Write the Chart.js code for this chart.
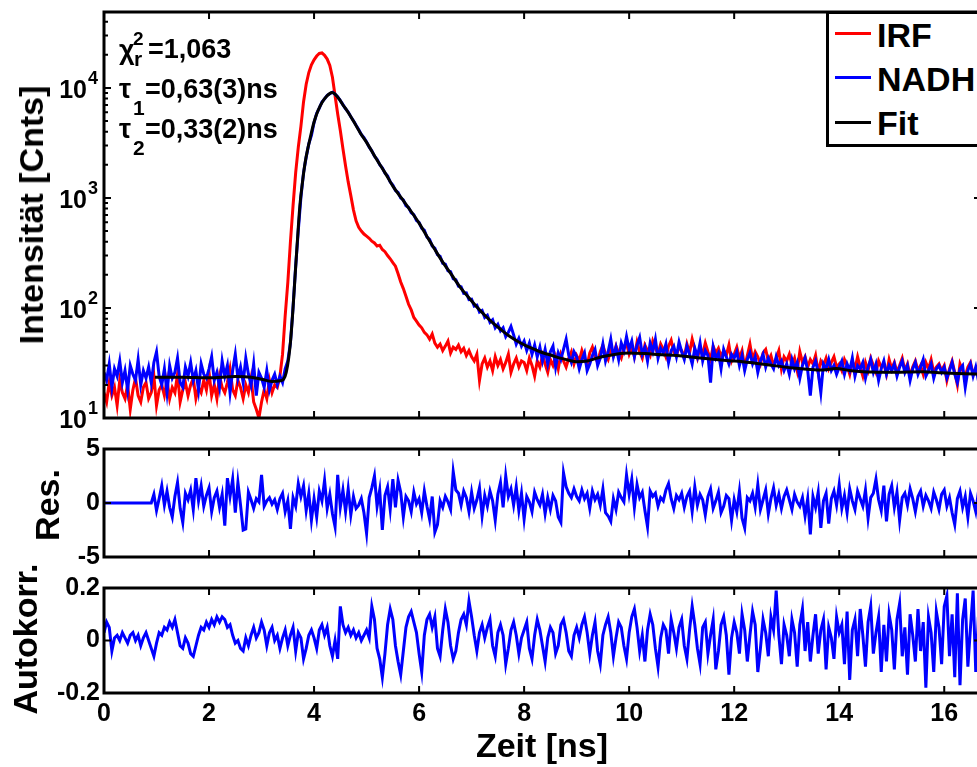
<!DOCTYPE html>
<html lang="de">
<head>
<meta charset="UTF-8">
<title>IRF / NADH – Fit, Residuen, Autokorrelation</title>
<script src="https://cdn.jsdelivr.net/npm/chart.js@4"></script>
<style>
  * { margin: 0; padding: 0; box-sizing: border-box; }
  html, body { width: 977px; height: 767px; overflow: hidden; background: #fff; }
  body { font-family: 'Liberation Sans', Arial, sans-serif; font-weight: bold; color: #000; }
  #fig { position: relative; width: 977px; height: 767px; overflow: hidden; }
  canvas { position: absolute; left: 0; }
  .ylab, .xlab { position: absolute; font-size: 34px; line-height: 34px; white-space: nowrap; }
  .ylab { transform: translate(-50%, -50%) rotate(-90deg); }
  .xlab { transform: translate(-50%, -50%); }
  .txt { position: absolute; white-space: nowrap; line-height: 1; }
  #legend { position: absolute; left: 826px; top: 11px; width: 180px; height: 136px; border: 3px solid #000; background: #fff; }
  #legend .swatch { position: absolute; left: 6px; width: 36px; height: 3px; }
  #legend .name { position: absolute; left: 48px; font-size: 34px; line-height: 34px; white-space: nowrap; }
</style>
</head>
<body>
<div id="fig">
  <canvas id="chartMain" width="990" height="430" style="top:0"></canvas>
  <canvas id="chartRes" width="990" height="148" style="top:429px"></canvas>
  <canvas id="chartAcf" width="990" height="199" style="top:568px"></canvas>

  <div class="ylab" style="left:31px; top:215px">Intensität [Cnts]</div>
  <div class="ylab" style="left:47px; top:505px">Res.</div>
  <div class="ylab" style="left:25px; top:639px">Autokorr.</div>
  <div class="xlab" style="left:542px; top:745px">Zeit [ns]</div>

  <div id="fitInfo"></div>
  <div id="legend"></div>
</div>

<script>
  // Time axis: one value per 0.05 ns bin, starting at 0 ns
  const BIN_NS = 0.05;
  const X_MAX = 16.7;
  const X_TICKS = [0, 2, 4, 6, 8, 10, 12, 14, 16];
  const LOG_DECADES = [10, 100, 1000, 10000];
  const LOG_MINOR = [20, 30, 40, 50, 60, 70, 80, 90, 200, 300, 400, 500, 600, 700, 800, 900,
    2000, 3000, 4000, 5000, 6000, 7000, 8000, 9000, 20000, 30000, 40000];
  const RES_TICKS = [-5, 0, 5];
  const ACF_TICKS = [-0.2, 0, 0.2];

  // Instrument response (counts per bin), one row per ns
  const IRF_COUNTS = [
    17, 14, 21, 16, 19, 13, 22, 17, 15, 20, 12, 18, 23, 16, 14, 19, 21, 15, 17, 24,
    13, 18, 20, 16, 22, 15, 19, 17, 25, 14, 18, 21, 16, 20, 23, 15, 19, 17, 22, 18,
    26, 16, 20, 15, 24, 19, 17, 21, 28, 18, 16, 22, 19, 15, 20, 17, 23, 14, 12, 10,
    14, 18, 15, 22, 17, 20, 19, 24, 38, 85, 170, 400, 850, 1700, 2900, 4500, 7500, 10800, 13800, 16200,
    18000, 19500, 20600, 20800, 19800, 18300, 16000, 12500, 8500, 5800, 4100, 2800, 1950, 1400, 1050, 780, 620, 540, 500, 470,
    450, 430, 405, 390, 365, 372, 340, 325, 300, 280, 258, 240, 205, 172, 150, 128, 108, 96, 82, 76,
    70, 66, 60, 57, 52, 58, 48, 44, 47, 41, 45, 50, 39, 44, 42, 46, 40, 43, 37, 41,
    36, 33, 38, 22, 31, 35, 29, 33, 27, 36, 30, 34, 28, 32, 38, 26, 31, 35, 29, 33,
    32, 27, 35, 30, 24, 33, 29, 37, 31, 26, 34, 30, 36, 28, 38, 33, 29, 35, 40, 31,
    37, 33, 41, 35, 30, 39, 44, 36, 32, 40, 46, 38, 34, 42, 37, 45, 39, 35, 43, 48,
    38, 44, 36, 49, 40, 35, 46, 41, 37, 50, 43, 38, 47, 42, 36, 45, 51, 40, 37, 44,
    41, 36, 47, 39, 52, 42, 35, 44, 38, 48, 40, 34, 45, 39, 43, 36, 41, 37, 46, 33,
    38, 44, 35, 41, 29, 37, 47, 34, 40, 36, 31, 39, 42, 33, 37, 30, 35, 41, 28, 36,
    33, 38, 30, 35, 27, 40, 32, 36, 29, 34, 31, 37, 26, 33, 30, 35, 28, 32, 36, 29,
    31, 27, 34, 30, 25, 33, 28, 36, 29, 24, 32, 27, 35, 30, 26, 33, 29, 31, 25, 34,
    28, 32, 26, 30, 35, 27, 31, 24, 29, 33, 27, 30, 25, 32, 28, 34, 26, 29, 31, 27,
    30, 22, 28, 33, 26, 20, 31, 27, 24, 29, 32, 25, 28, 30, 26
  ];

  // NADH decay (counts per bin)
  const NADH_COUNTS = [
    26, 22, 31, 19, 28, 24, 33, 21, 27, 18, 30, 25, 22, 34, 20, 27, 23, 29, 21, 32,
    40, 24, 20, 28, 17, 30, 23, 26, 35, 21, 19, 29, 24, 32, 22, 27, 18, 31, 25, 23,
    28, 36, 22, 26, 19, 33, 24, 30, 17, 27, 38, 23, 29, 21, 35, 25, 20, 31, 16, 26,
    23, 19, 27, 18, 22, 25, 20, 24, 21, 28, 33, 48, 102, 240, 510, 1020, 1700, 2350, 3100, 3700,
    4850, 5880, 6550, 7450, 7950, 8560, 8870, 9150, 8760, 8340, 7660, 7050, 6460, 6040, 5470, 5030, 4570, 4180, 3770, 3530,
    3230, 2890, 2680, 2400, 2250, 2010, 1880, 1680, 1590, 1400, 1310, 1170, 1120, 1000, 960, 850, 820, 735, 705, 625,
    600, 530, 510, 440, 420, 365, 350, 305, 295, 255, 250, 218, 214, 184, 181, 158, 156, 136, 137, 119,
    120, 104, 106, 92, 95, 82, 86, 74, 78, 66, 71, 62, 66, 55, 60, 68, 57, 47, 53, 45,
    50, 41, 48, 38, 46, 36, 44, 33, 42, 31, 40, 45, 29, 39, 34, 42, 52, 37, 32, 40,
    36, 28, 34, 39, 27, 31, 37, 42, 30, 35, 47, 33, 40, 52, 36, 44, 34, 48, 41, 55,
    42, 50, 36, 46, 54, 38, 44, 33, 48, 40, 52, 35, 43, 39, 47, 32, 41, 45, 36, 49,
    40, 34, 45, 38, 31, 43, 36, 48, 33, 41, 37, 21, 44, 35, 39, 28, 42, 36, 31, 38,
    35, 40, 30, 37, 27, 34, 39, 31, 36, 26, 33, 38, 29, 35, 31, 28, 36, 30, 33, 27,
    31, 25, 34, 28, 32, 23, 30, 35, 27, 16, 29, 33, 26, 17, 31, 28, 34, 27, 30, 25,
    29, 33, 25, 31, 27, 35, 24, 30, 28, 32, 23, 29, 34, 26, 31, 22, 28, 33, 25, 30,
    27, 31, 24, 29, 33, 26, 30, 22, 28, 32, 25, 29, 34, 24, 27, 31, 23, 28, 30, 26,
    29, 23, 27, 32, 25, 21, 28, 30, 19, 27, 31, 24, 29, 22, 27
  ];

  // Fit curve, sampled where it bends
  const FIT_TIME = [0.97, 1.5, 2.0, 2.5, 2.8, 3.0, 3.2, 3.35, 3.42, 3.47, 3.52, 3.56, 3.60, 3.64, 3.68,
    3.73, 3.78, 3.83, 3.88, 3.92, 4.0, 4.08, 4.16, 4.24, 4.30, 4.34, 4.40, 4.48, 4.55, 4.62, 4.75,
    4.88, 5.0, 5.19, 5.35, 5.51, 5.67, 5.83, 6.0, 6.15, 6.3, 6.46, 6.62, 6.78, 6.94, 7.1, 7.26,
    7.42, 7.57, 7.73, 7.9, 8.05, 8.2, 8.37, 8.53, 8.69, 8.85, 9.0, 9.2, 9.48, 9.75, 9.99, 10.3,
    10.63, 10.9, 11.14, 11.4, 11.65, 11.9, 12.16, 12.4, 12.67, 12.9, 13.18, 13.45, 13.69, 13.94,
    14.2, 14.45, 14.7, 14.96, 15.3, 15.6, 15.9, 16.11, 16.4, 16.7];
  const FIT_COUNTS = [23.5, 23.5, 23.2, 23.8, 23.5, 22.5, 21.5, 21.8, 22.5, 26, 36, 55, 100, 200, 390,
    850, 1400, 2100, 2800, 3400, 4900, 6300, 7500, 8400, 8900, 9100, 8800, 7900, 7000, 6300, 5000,
    3900, 3200, 2250, 1700, 1260, 990, 776, 590, 447, 340, 257, 200, 155, 125, 102, 85,
    72, 63, 55, 49, 45, 42, 39, 37, 35, 33.5, 32.5, 33, 36, 38, 39, 38.5,
    37.5, 37, 36, 35, 34, 33.2, 32.5, 31.5, 30.3, 29.3, 28.3, 27.6, 27.3, 28.2,
    27, 26.3, 26.1, 26, 26.2, 26.3, 25.8, 25.5, 25.3, 25];

  // Weighted residuals (same bins as the data)
  const RESIDUALS = [
    0, 0, 0, 0, 0, 0, 0, 0, 0, 0, 0, 0, 0, 0, 0, 0, 0, 0, 0, 0.8,
    -0.7, 0.4, 1.6, -0.2, 1.1, -0.4, -1.3, 0.6, 1.9, -0.5, -1.8, 0.9, 0.3, 1.2, -0.6, 2.3, 0.2, 1.6, -0.3, 0.7,
    1.4, -0.8, 0.5, 1.1, -0.4, 0.8, -2.1, 2.3, 0.6, 2.2, -0.9, 1.9, -0.2, -2.5, -2.4, 1.0, 0.3, -0.5, 0.4, 0.1,
    2.6, -0.3, 0.2, 0.5, -0.1, 0.3, -0.6, 0.4, 0.9, -0.8, 0.2, -2.4, 0.5, -0.3, 1.8, 0.6, 1.6, -0.7, 0.9, -1.6,
    0.4, -1.3, 1.1, 0.2, 2.1, -0.5, 0.8, -1.0, -2.2, 2.6, -0.4, 1.2, -0.8, 1.3, -1.1, 0.6, -0.5, -0.2, 0.4, -0.9,
    -2.8, 0.5, 1.4, 2.5, -0.3, 1.2, -2.5, 0.7, 1.5, -0.6, 2.2, -0.4, 2.1, 1.0, -1.3, 0.6, 0.2, -0.8, 1.0, -0.1,
    0.4, -0.9, 1.1, -0.3, -1.5, 0.6, -2.7, -2.0, 0.2, -0.4, 0.6, 0.1, -0.6, 2.9, 1.2, 0.9, -0.2, 1.1, 0.5, -0.8,
    1.0, -0.5, 0.3, 1.4, -1.2, 0.7, -0.3, 1.1, 0.2, -1.6, 0.8, 1.9, -0.4, 2.5, 0.6, 1.3, -0.2, 1.5, -0.7, 0.9,
    -1.5, 0.6, 0.1, -0.8, 1.0, 0.3, -0.2, 0.8, -1.0, 0.5, -0.6, 0.7, 0.2, -1.3, -1.8, 2.8, 1.5, 0.9, 0.5, 1.3,
    0.6, 0.2, 1.2, 0.4, 0.9, -0.5, 1.1, 0.3, 0.8, -0.2, 1.3, -0.9, -1.2, -1.7, 0.4, -0.6, 1.0, 0.5, 0.1, 2.6,
    0.8, 2.2, -0.4, 1.7, 0.5, 1.0, -0.7, -2.2, 1.1, 0.6, 0.9, -0.3, 0.5, 0.2, 1.2, 1.8, 0.4, -0.5, 0.7, 0.3,
    0.9, -0.4, 0.6, 1.1, -0.8, 1.5, -0.2, 0.8, 0.3, -1.1, 0.6, 1.3, -0.5, 0.2, 1.0, -0.9, -0.3, 0.7, 0.4, -1.6,
    0.3, -0.8, 1.1, -1.4, -2.3, 0.5, 0.2, 0.9, -0.4, 1.7, -0.6, 0.3, 1.2, -1.0, 0.4, 1.4, -0.2, 0.8, -0.5, 0.6,
    1.2, 0.3, -0.6, 0.8, 0.1, -0.3, 0.5, -1.2, 0.4, -2.9, 0.6, -0.4, 1.0, -2.3, 0.2, 0.9, -1.9, 0.4, 1.1, -0.2,
    1.7, -0.5, 0.7, -0.9, 1.3, 0.2, -0.6, 1.1, 0.4, -0.3, 1.2, -1.4, 0.5, 0.9, 2.2, 0.3, -0.7, 1.6, -1.7, 0.8,
    1.6, -0.4, 1.0, -1.6, 0.5, 0.9, -0.2, 1.3, 0.4, -0.8, 0.6, 1.1, -0.3, 0.7, 0.2, -0.5, 1.0, 0.3, -0.6, 0.8,
    1.2, -0.3, 0.5, -0.9, -2.0, 0.4, 1.1, -0.4, 0.6, -1.3, 0.9, 0.2, -0.8, 1.0, -0.5
  ];

  // Autocorrelation of the residuals
  const AUTOCORR = [
    0.03, 0.07, 0.05, -0.04, 0.01, 0.02, 0.0, 0.03, 0.01, -0.01, 0.02, 0.03, 0.0, 0.02, -0.02, 0.01, 0.03, 0.0, -0.03, -0.06,
    -0.01, 0.03, 0.02, 0.05, 0.04, 0.07, 0.05, 0.08, 0.03, -0.02, -0.03, 0.01, -0.01, -0.05, -0.06, -0.02, 0.02, 0.05, 0.04, 0.07,
    0.05, 0.08, 0.06, 0.09, 0.07, 0.09, 0.08, 0.05, 0.06, 0.02, -0.01, 0.0, -0.03, -0.04, 0.01, -0.02, 0.02, 0.05, 0.01, 0.03,
    0.07, 0.04, -0.02, 0.03, 0.05, 0.0, 0.02, -0.03, 0.01, 0.04, -0.02, 0.02, 0.05, -0.04, 0.03, 0.01, -0.07, -0.03, 0.02, 0.04,
    0.01, -0.03, 0.04, 0.06, 0.02, 0.05, -0.02, -0.06, 0.0, -0.07, 0.13, 0.06, 0.03, 0.05, 0.02, 0.04, 0.01, 0.03, 0.0, 0.02,
    0.04, 0.01, 0.13, 0.08, -0.03, -0.07, -0.14, -0.05, 0.06, 0.12, 0.08, -0.02, -0.08, -0.13, -0.04, 0.05, 0.09, 0.11, 0.07, 0.03,
    -0.05, -0.12, 0.02, 0.08, 0.10, 0.05, 0.09, -0.03, -0.06, 0.04, 0.12, 0.07, -0.02, -0.07, -0.04, 0.03, 0.08, 0.10, 0.06, 0.15,
    0.09, 0.02, -0.04, 0.03, 0.06, 0.01, 0.05, 0.08, -0.02, -0.06, 0.03, 0.06, 0.02, -0.09, -0.03, 0.04, 0.07, 0.02, -0.05, 0.01,
    0.04, 0.07, -0.03, -0.07, 0.02, 0.08, 0.04, -0.02, -0.08, 0.01, 0.05, 0.03, -0.05, -0.02, 0.06, 0.08, 0.03, -0.04, -0.06, 0.02,
    0.05, 0.01, 0.06, 0.09, 0.03, -0.05, 0.02, 0.07, -0.04, -0.09, 0.02, 0.06, 0.09, 0.03, -0.06, 0.01, 0.07, 0.05, -0.02, -0.07,
    0.03, 0.09, 0.12, 0.05, -0.04, 0.02, -0.08, 0.04, 0.10, 0.06, -0.03, -0.10, 0.01, 0.06, 0.04, -0.05, 0.08, 0.03, -0.03, 0.05,
    0.08, -0.02, -0.07, 0.04, 0.13, 0.06, -0.03, -0.09, 0.05, 0.07, -0.05, 0.02, 0.08, -0.11, -0.04, 0.06, 0.09, 0.02, -0.13, 0.01,
    0.07, 0.03, -0.05, 0.10, 0.04, -0.08, 0.02, 0.11, 0.06, -0.12, -0.03, 0.08, 0.03, -0.06, 0.09, 0.04, 0.19, 0.02, -0.09, 0.06,
    0.02, -0.06, 0.08, 0.03, -0.10, 0.06, 0.12, -0.04, 0.07, -0.08, 0.02, 0.10, -0.05, 0.04, 0.08, -0.11, 0.05, 0.01, -0.07, 0.09,
    0.03, 0.06, -0.09, 0.11, -0.15, 0.04, 0.08, -0.06, 0.12, 0.02, -0.10, 0.07, 0.13, -0.05, 0.03, 0.09, -0.12, 0.06, -0.08, 0.10,
    0.04, -0.11, 0.08, 0.14, -0.06, 0.05, -0.13, 0.10, 0.02, -0.08, 0.12, -0.04, 0.07, -0.18, 0.09, 0.03, -0.12, 0.11, 0.05, -0.09,
    0.13, 0.17, -0.06, 0.10, -0.14, 0.18, -0.17, 0.08, 0.16, -0.10, 0.05, 0.19, -0.12, 0.09, -0.04
  ];

  const red = '#ff0000', blue = '#0000ff', black = '#000000';
  const FONT = "'Liberation Sans', Arial, sans-serif";
  const tickFont = { family: FONT, size: 25, weight: 'bold' };

  const binned = arr => arr.map((y, i) => ({ x: +(i * BIN_NS).toFixed(2), y }));
  const paired = (xs, ys) => xs.map((x, i) => ({ x, y: ys[i] }));

  // MATLAB-style box: frame plus inward ticks on all four sides
  const matlabAxes = {
    id: 'matlabAxes',
    afterDatasetsDraw(chart, args, o) {
      const { ctx, chartArea: a, scales: { x, y } } = chart;
      ctx.save();
      ctx.strokeStyle = '#000';
      ctx.lineWidth = 2;
      ctx.beginPath();
      const seg = (x0, y0, x1, y1) => { ctx.moveTo(x0, y0); ctx.lineTo(x1, y1); };
      for (const v of X_TICKS) {
        const px = x.getPixelForValue(v);
        seg(px, a.top, px, a.top + 7);
        seg(px, a.bottom, px, a.bottom - 7);
      }
      for (const v of o.yMajor) {
        const py = y.getPixelForValue(v);
        seg(a.left, py, a.left + 7, py);
        seg(a.right, py, a.right - 7, py);
      }
      for (const v of (o.yMinor || [])) {
        const py = y.getPixelForValue(v);
        seg(a.left, py, a.left + 4, py);
        seg(a.right, py, a.right - 4, py);
      }
      ctx.stroke();
      ctx.lineWidth = 3;
      ctx.strokeRect(a.left, a.top, a.width, a.height);

      if (o.logLabels) {
        ctx.fillStyle = '#000';
        ctx.textAlign = 'right';
        ctx.textBaseline = 'middle';
        for (const v of o.yMajor) {
          const py = y.getPixelForValue(v);
          const exp = String(Math.round(Math.log10(v)));
          ctx.font = `bold 18px ${FONT}`;
          const w = ctx.measureText(exp).width;
          ctx.fillText(exp, a.left - 6, py - 9);
          ctx.font = `bold 25px ${FONT}`;
          ctx.fillText('10', a.left - 7 - w, py + 3);
        }
      }
      ctx.restore();
    }
  };

  function xAxis(showLabels) {
    const axis = {
      type: 'linear', min: 0, max: X_MAX, display: showLabels,
      grid: { display: false, drawTicks: false }, border: { display: false },
      ticks: { stepSize: 2, includeBounds: false, autoSkip: false, maxRotation: 0, padding: 6, font: tickFont, color: '#000' }
    };
    if (showLabels) axis.afterFit = s => { s.height = 74; };
    return axis;
  }

  function commonOptions(padding, yScale, axesOpts) {
    return {
      responsive: false, animation: false, devicePixelRatio: 1, events: [],
      layout: { padding },
      plugins: { legend: { display: false }, tooltip: { enabled: false }, matlabAxes: axesOpts },
      scales: { x: xAxis(!!axesOpts.xLabels), y: yScale }
    };
  }

  const line = (label, data, color, order, extra) => Object.assign({
    label, data, borderColor: color, backgroundColor: color, borderWidth: 3,
    pointRadius: 0, tension: 0, fill: false, order
  }, extra || {});

  // Panel 1: decays on a log axis
  const mainChart = new Chart(document.getElementById('chartMain'), {
    type: 'line',
    data: {
      datasets: [
        line('IRF', binned(IRF_COUNTS), red, 3),
        line('NADH', binned(NADH_COUNTS), blue, 2),
        line('Fit', paired(FIT_TIME, FIT_COUNTS), black, 1, { cubicInterpolationMode: 'monotone' })
      ]
    },
    options: commonOptions({ top: 12, bottom: 12, left: 0, right: 9 }, {
      type: 'logarithmic', min: 10, max: 49000,
      grid: { display: false }, border: { display: false }, ticks: { display: false },
      afterFit: s => { s.width = 104; }
    }, { yMajor: LOG_DECADES, yMinor: LOG_MINOR, logLabels: true }),
    plugins: [matlabAxes]
  });

  // Panel 2: residuals
  new Chart(document.getElementById('chartRes'), {
    type: 'line',
    data: { datasets: [line('Res.', binned(RESIDUALS), blue, 1)] },
    options: commonOptions({ top: 20, bottom: 20, left: 0, right: 9 }, {
      type: 'linear', min: -5, max: 5,
      grid: { display: false, drawTicks: false }, border: { display: false },
      ticks: { stepSize: 5, padding: 4, font: tickFont, color: '#000' },
      afterFit: s => { s.width = 104; }
    }, { yMajor: RES_TICKS }),
    plugins: [matlabAxes]
  });

  // Panel 3: autocorrelation, carries the time axis labels
  new Chart(document.getElementById('chartAcf'), {
    type: 'line',
    data: { datasets: [line('Autokorr.', binned(AUTOCORR), blue, 1)] },
    options: commonOptions({ top: 20, bottom: 0, left: 0, right: 9 }, {
      type: 'linear', min: -0.2, max: 0.2,
      grid: { display: false, drawTicks: false }, border: { display: false },
      ticks: { stepSize: 0.2, padding: 4, font: tickFont, color: '#000',
        callback: v => String(Math.round(v * 10) / 10) },
      afterFit: s => { s.width = 104; }
    }, { yMajor: ACF_TICKS, xLabels: true }),
    plugins: [matlabAxes]
  });

  // Legend box, built from the main chart's datasets
  const legend = document.getElementById('legend');
  mainChart.data.datasets.forEach((ds, i) => {
    const sw = document.createElement('div');
    sw.className = 'swatch';
    sw.style.top = (18 + i * 44.3) + 'px';
    sw.style.background = ds.borderColor;
    const nm = document.createElement('div');
    nm.className = 'name';
    nm.style.top = (4 + i * 44) + 'px';
    nm.textContent = ds.label;
    legend.append(sw, nm);
  });

  // Fit results in the upper left corner (text placed by baseline)
  const info = document.getElementById('fitInfo');
  function put(text, left, baseline, size) {
    const el = document.createElement('div');
    el.className = 'txt';
    el.textContent = text;
    el.style.fontSize = size + 'px';
    el.style.left = left + 'px';
    el.style.top = (baseline - 0.8465 * size) + 'px';
    info.appendChild(el);
  }
  put('χ', 119, 59.5, 27);  put('2', 133, 45, 19);  put('r', 134, 65.5, 21);  put('=1,063', 148, 58.5, 27);
  put('τ', 119, 98.5, 27);  put('1', 133, 115, 21); put('=0,63(3)ns', 145, 98.5, 27);
  put('τ', 119, 138.5, 27); put('2', 133, 155, 21); put('=0,33(2)ns', 145, 138.5, 27);
</script>
</body>
</html>
